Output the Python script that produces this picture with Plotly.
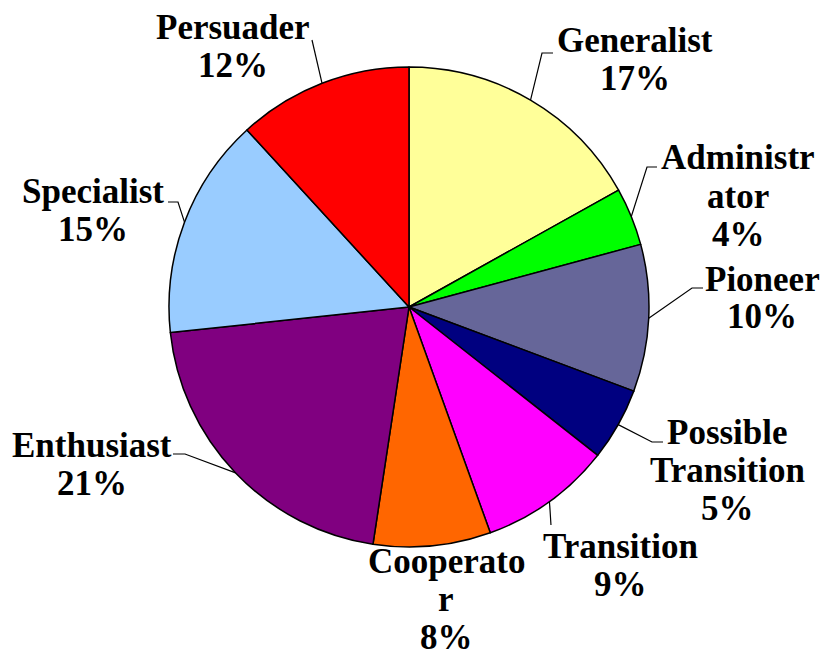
import math
import plotly.graph_objects as go

# ---- data (clockwise from 12 o'clock) ----
categories = ["Generalist", "Administrator", "Pioneer", "Possible Transition",
              "Transition", "Cooperator", "Enthusiast", "Specialist", "Persuader"]
shares = [16.9, 3.9, 9.9, 4.9, 8.9, 7.9, 20.9, 14.9, 11.8]
colors = ["#FFFF99", "#00FF00", "#666699", "#000080", "#FF00FF",
          "#FF6600", "#800080", "#99CCFF", "#FF0000"]
label_lines = [["Generalist"], ["Administr", "ator"], ["Pioneer"],
               ["Possible", "Transition"], ["Transition"], ["Cooperato", "r"],
               ["Enthusiast"], ["Specialist"], ["Persuader"]]

# ---- layout (screen pixels) ----
W, H = 824, 658
CX, CY, R = 409, 307, 240
LINE_GAP = 38
# label block centre x, first-line centre y
label_pos = {
    "Generalist": (635, 40), "Administrator": (738, 158), "Pioneer": (762, 279),
    "Possible Transition": (727, 432), "Transition": (620, 546),
    "Cooperator": (446, 561), "Enthusiast": (92, 445), "Specialist": (93, 191),
    "Persuader": (233, 27),
}
# leader line: elbow point, end point
leaders = {
    "Generalist": ((542, 53), (553, 53)),
    "Administrator": ((647, 167), (657, 167)),
    "Pioneer": ((692, 288), (703, 288)),
    "Possible Transition": ((652, 442), (663, 442)),
    "Transition": ((551, 525), (551, 525)),
    "Enthusiast": ((185, 454), (173, 454)),
    "Specialist": ((178, 202), (168, 202)),
    "Persuader": ((312, 40), (312, 40)),
}

def px(x):
    return x / W

def py(y):
    return 1 - y / H

fig = go.Figure(go.Pie(
    labels=categories, values=shares, sort=False, direction="clockwise",
    rotation=0, marker=dict(colors=colors, line=dict(color="black", width=1.5)),
    textinfo="none", hoverinfo="label+percent", showlegend=False,
    domain=dict(x=[px(CX - R), px(CX + R)], y=[py(CY + R), py(CY - R)]),
))

total = sum(shares)
annotations = []
shapes = []
cum = 0.0
font = dict(family="Liberation Serif, Times New Roman, serif", size=35, color="black")
for name, v, lines in zip(categories, shares, label_lines):
    mid = (cum + v / 2) / total * 2 * math.pi
    cum += v
    pct = f"{round(v / total * 100)}%"
    cx, cy = label_pos[name]
    for i, t in enumerate(lines + [pct]):
        annotations.append(dict(
            x=px(cx), y=py(cy + i * LINE_GAP), xref="paper", yref="paper",
            text=f"<b>{t}</b>", showarrow=False, font=font,
            xanchor="center", yanchor="middle"))
    if name in leaders:
        sx = CX + R * math.sin(mid)
        sy = CY - R * math.cos(mid)
        (ex, ey), (fx, fy) = leaders[name]
        path = f"M {px(sx)},{py(sy)} L {px(ex)},{py(ey)} L {px(fx)},{py(fy)}"
        shapes.append(dict(type="path", path=path, xref="paper", yref="paper",
                           line=dict(color="black", width=1.2)))

fig.update_layout(
    width=W, height=H, margin=dict(l=0, r=0, t=0, b=0),
    paper_bgcolor="white", plot_bgcolor="white",
    annotations=annotations, shapes=shapes,
)
fig.write_html(
    "out.html",
    config={"displayModeBar": False},
    post_script="document.body.style.margin='0';document.body.style.overflow='hidden';",
)
